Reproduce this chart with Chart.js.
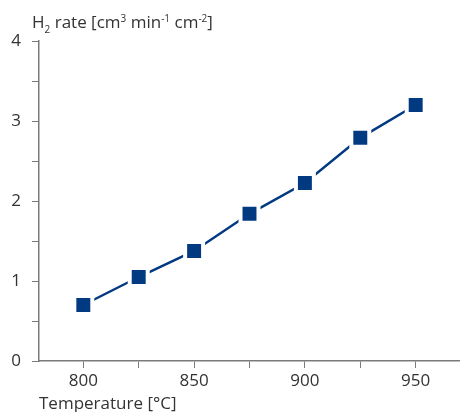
<!DOCTYPE html>
<html>
<head>
<meta charset="utf-8">
<script src="https://cdn.jsdelivr.net/npm/chart.js@4"></script>
<style>
  html, body { margin: 0; padding: 0; background: #fff; }
  #wrap { position: relative; width: 460px; height: 412px; }
  #ytitle {
    position: absolute; left: 32px; top: 10px;
    font-family: "Open Sans", sans-serif; font-size: 17px; line-height: 24px;
    color: #333; white-space: nowrap;
  }
  #ytitle .sb { font-size: 10px; position: relative; top: 5px; }
  #ytitle .sp { font-size: 10px; position: relative; top: -6px; }
</style>
</head>
<body>
<div id="wrap">
  <canvas id="rateChart" width="460" height="412"></canvas>
  <div id="ytitle">H<span class="sb">2</span> rate [cm<span class="sp">3</span> min<span class="sp">-1</span> cm<span class="sp">-2</span>]</div>
</div>
<script>
// values
const temperatures = [800, 825, 850, 875, 900, 925, 950]
const h2Rates = [0.70, 1.05, 1.375, 1.84, 2.225, 2.79, 3.2]

// tick labels (minor ticks get no label)
const xTickLabels = [800, 850, 900, 950]
const xTickMarks = [800, 825, 850, 875, 900, 925, 950]
const yTickLabels = [0, 1, 2, 3, 4]

const axisGrey = '#7a7a7a'
const textGrey = '#333333'
const lineBlue = '#023a82'
const font = { family: '"Open Sans", sans-serif', size: 17 }

const data = {
  datasets: [{
    label: 'H2 rate',
    data: temperatures.map((t, i) => ({ x: t, y: h2Rates[i] })),
    borderColor: lineBlue,
    borderWidth: 2.5,
    backgroundColor: lineBlue,
    pointStyle: 'rect',
    pointRadius: 12.7,
    pointBorderColor: '#ffffff',
    pointBorderWidth: 4,
    tension: 0
  }]
}

const config = {
  type: 'line',
  data: data,
  options: {
    responsive: false,
    animation: false,
    layout: { autoPadding: false, padding: { top: 41, right: 0, left: 0, bottom: 0 } },
    plugins: { legend: { display: false }, tooltip: { enabled: false } },
    scales: {
      x: {
        type: 'linear',
        min: 780,
        max: 970,
        afterFit: (s) => { s.height = 51; s.paddingRight = 0; s.paddingLeft = 0 },
        afterBuildTicks: (s) => { s.ticks = xTickMarks.map(v => ({ value: v })) },
        grid: { drawOnChartArea: false, drawTicks: true, tickLength: 7, color: axisGrey },
        border: { color: axisGrey, width: 1.5 },
        ticks: {
          autoSkip: false,
          maxRotation: 0,
          padding: 3,
          color: textGrey,
          font: font,
          callback: (v) => xTickLabels.includes(v) ? String(v) : ''
        },
        title: {
          display: true,
          text: 'Temperature [°C]',
          align: 'start',
          color: textGrey,
          font: font,
          padding: { top: 0, bottom: -2 }
        }
      },
      y: {
        type: 'linear',
        min: 0,
        max: 4,
        afterFit: (s) => { s.width = 39 },
        ticks: {
          stepSize: 0.5,
          padding: 11,
          color: textGrey,
          font: font,
          callback: (v) => yTickLabels.includes(v) ? String(v) : ''
        },
        grid: { drawOnChartArea: false, drawTicks: true, tickLength: 7, color: axisGrey },
        border: { color: axisGrey, width: 1.5 }
      }
    }
  }
}

const myChart = new Chart(document.getElementById('rateChart'), config)
</script>
</body>
</html>
